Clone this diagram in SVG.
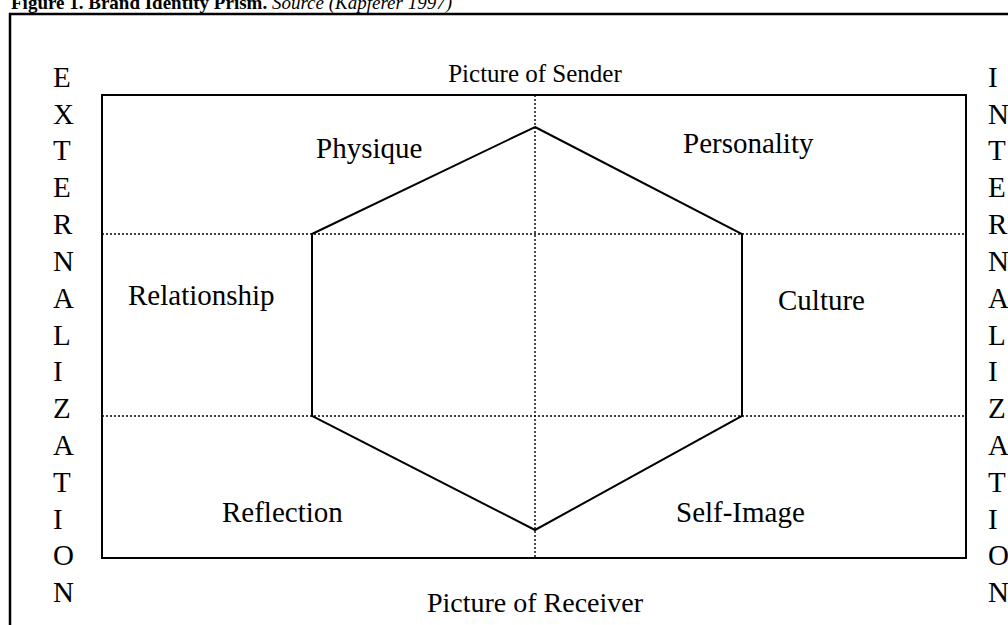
<svg xmlns="http://www.w3.org/2000/svg" width="1008" height="625" viewBox="0 0 1008 625">
<style>
text{font-family:"Liberation Serif","Times New Roman",serif;fill:#000}
.lbl{font-size:29px}
.ltr{font-size:29px}
.solid{fill:none;stroke:#000;stroke-width:2}
.dot{fill:none;stroke:#000;stroke-width:1.4;stroke-dasharray:2 2}
</style>
<rect width="1008" height="625" fill="#fff"/>
<g id="caption">
<text x="11" y="9" font-size="19"><tspan font-weight="bold">Figure 1. Brand Identity Prism.</tspan><tspan font-style="italic"> Source (Kapferer 1997)</tspan></text>
</g>
<g id="frame">
<path d="M10,625 V14 H1008" fill="none" stroke="#000" stroke-width="2.5"/>
</g>
<g id="connectors">
<rect class="solid" x="102" y="95" width="864" height="463"/>
<line class="dot" x1="535" y1="95" x2="535" y2="558"/>
<line class="dot" x1="102" y1="234" x2="966" y2="234"/>
<line class="dot" x1="102" y1="416" x2="966" y2="416"/>
</g>
<g id="prism">
<polygon class="solid" points="535,127 742,234 742,416 535,530 312,416 312,234"/>
</g>
<g id="sender"><text x="535" y="82" text-anchor="middle" font-size="25">Picture of Sender</text></g>
<g id="receiver"><text x="535" y="612" text-anchor="middle" font-size="28">Picture of Receiver</text></g>
<g id="physique"><text class="lbl" x="316" y="158">Physique</text></g>
<g id="personality"><text class="lbl" x="683" y="153">Personality</text></g>
<g id="relationship"><text class="lbl" x="128" y="305">Relationship</text></g>
<g id="culture"><text class="lbl" x="778" y="310">Culture</text></g>
<g id="reflection"><text class="lbl" x="222" y="522">Reflection</text></g>
<g id="selfimage"><text class="lbl" x="676" y="522">Self-Image</text></g>
<g id="externalization">
<text class="ltr" x="53" y="87">E</text>
<text class="ltr" x="53" y="124">X</text>
<text class="ltr" x="53" y="160">T</text>
<text class="ltr" x="53" y="197">E</text>
<text class="ltr" x="53" y="234">R</text>
<text class="ltr" x="53" y="271">N</text>
<text class="ltr" x="53" y="308">A</text>
<text class="ltr" x="53" y="345">L</text>
<text class="ltr" x="53" y="381">I</text>
<text class="ltr" x="53" y="418">Z</text>
<text class="ltr" x="53" y="455">A</text>
<text class="ltr" x="53" y="492">T</text>
<text class="ltr" x="53" y="529">I</text>
<text class="ltr" x="53" y="565">O</text>
<text class="ltr" x="53" y="602">N</text>
</g>
<g id="internalization">
<text class="ltr" x="988" y="87">I</text>
<text class="ltr" x="988" y="124">N</text>
<text class="ltr" x="988" y="160">T</text>
<text class="ltr" x="988" y="197">E</text>
<text class="ltr" x="988" y="234">R</text>
<text class="ltr" x="988" y="271">N</text>
<text class="ltr" x="988" y="308">A</text>
<text class="ltr" x="988" y="345">L</text>
<text class="ltr" x="988" y="381">I</text>
<text class="ltr" x="988" y="418">Z</text>
<text class="ltr" x="988" y="455">A</text>
<text class="ltr" x="988" y="492">T</text>
<text class="ltr" x="988" y="529">I</text>
<text class="ltr" x="988" y="565">O</text>
<text class="ltr" x="988" y="602">N</text>
</g>
</svg>
